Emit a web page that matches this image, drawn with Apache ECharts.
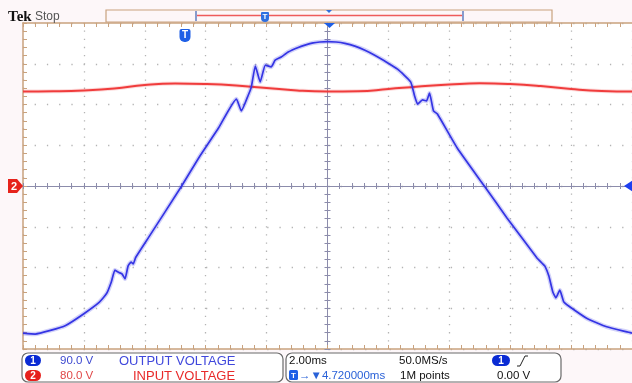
<!DOCTYPE html>
<html>
<head>
<meta charset="utf-8">
<script src="https://cdn.jsdelivr.net/npm/echarts@6/dist/echarts.min.js"></script>
<style>html,body{margin:0;padding:0;background:#fdf7f9;}#c{width:632px;height:383px;}</style>
</head>
<body>
<div id="c"></div>
<script>
// Channel 1 (OUTPUT VOLTAGE), time in ms, voltage in V
const blueTime  = [-10.0,-9.6,-9.1,-8.6,-8.0,-7.5,-7.25,-7.1,-6.98,-6.85,-6.75,-6.65,-6.55,-6.45,-6.38,-6.3,-5.87,-4.79,-4.23,-3.58,-2.99,-2.83,-2.60,-2.50,-2.37,-2.21,-2.04,-1.85,-1.72,-1.52,-1.29,-0.96,-0.74,-0.47,-0.25,0.0,0.28,0.57,0.90,1.23,1.55,1.88,2.30,2.73,2.86,2.96,3.12,3.25,3.35,3.48,3.61,4.26,5.15,5.90,6.88,7.04,7.14,7.27,7.40,7.50,7.63,7.76,7.92,8.51,9.17,9.89,10.0];
const blueVolts = [-325,-327,-319,-308,-282,-257,-237,-212,-186,-191,-194,-205,-177,-168,-172,-158,-113,0,62,128,192,166,201,219,265,230,267,263,278,285,296,306,311,316,318,319,318,315,309,300,289,276,258,230,199,181,190,188,205,166,159,84,0,-71,-159,-170,-177,-199,-234,-247,-230,-256,-265,-292,-311,-323,-325];
// Channel 2 (INPUT VOLTAGE)
const redTime  = [-10,-9,-8,-7,-6,-5,-4,-3,-2,-1,0,1,2,3,4,5,6,7,8,9,10];
const redVolts = [185.5,185.9,187.5,191.4,198.3,201.2,200.2,197.3,192.4,187.5,185.5,186,190.4,195.3,199.2,201.6,200.2,196.3,190.4,186.5,185.5];
// Scope settings
const timeMin = -10, timeMax = 10, timeDiv = 2;
const ch1Div = 90, ch2Div = 80, vDivs = 4;

const blueData = blueTime.map((t,i)=>[t, blueVolts[i]]);
const redData = redTime.map((t,i)=>[t, redVolts[i]]);

const FRAME = '#c9a27e', CENTER = '#8c8cab', DOT = '#b4b4b4';
const BLUE = '#3434e4', RED = '#f03c3c';

function xAx(extra){ return Object.assign({type:'value', min:timeMin, max:timeMax, interval:timeDiv,
  axisLabel:{show:false}, splitLine:{show:false}}, extra); }
function yAx(extra){ return Object.assign({type:'value', min:-ch1Div*vDivs, max:ch1Div*vDivs, interval:ch1Div,
  axisLabel:{show:false}, splitLine:{show:false}}, extra); }

const frameTick = {show:true, inside:true, length:4, lineStyle:{color:FRAME, width:1}};
const frameMinor = {show:true, splitNumber:5, length:4, lineStyle:{color:FRAME, width:1}};
const cTick = (inside)=>({show:true, inside:inside, length:3, lineStyle:{color:CENTER, width:1}});
const cMinor = {show:true, splitNumber:5, length:3, lineStyle:{color:CENTER, width:1}};

const chart = echarts.init(document.getElementById('c'), null, {renderer:'canvas'});
const txt = (x,y,s,color,font)=>({type:'text', z:20, style:{x:x,y:y,text:s,fill:color,font:font,align:'left',verticalAlign:'middle'}});
const ctxt = (x,y,s,color,font)=>({type:'text', z:20, style:{x:x,y:y,text:s,fill:color,font:font,align:'center',verticalAlign:'middle'}});
const F = '11.5px "Liberation Sans", Arial, sans-serif';
const F13 = '13px "Liberation Sans", Arial, sans-serif';
const FB = (n)=>'bold '+n+'px "Liberation Sans", sans-serif';

chart.setOption({
  animation:false,
  backgroundColor:'#fdf7f9',
  grid:{left:23, top:23, width:612, height:326, show:true, backgroundColor:'#ffffff', borderWidth:0},
  xAxis:[
    xAx({position:'bottom', axisLine:{onZero:false, lineStyle:{color:FRAME, width:1.5}}, axisTick:frameTick, minorTick:frameMinor,
         splitLine:{show:true, lineStyle:{color:DOT, width:1.3, type:[1.3,6.85], dashOffset:0.6}}}),
    xAx({position:'top', axisLine:{onZero:false, lineStyle:{color:FRAME, width:1.5}}, axisTick:frameTick, minorTick:frameMinor}),
    xAx({position:'bottom', axisLine:{onZero:true, onZeroAxisIndex:0, lineStyle:{color:CENTER, width:1}}, axisTick:cTick(true), minorTick:cMinor}),
    xAx({position:'bottom', axisLine:{onZero:true, onZeroAxisIndex:0, lineStyle:{color:CENTER, width:1}}, axisTick:cTick(false), minorTick:cMinor})
  ],
  yAxis:[
    yAx({position:'left', axisLine:{show:true, onZero:false, lineStyle:{color:FRAME, width:1.5}}, axisTick:frameTick, minorTick:frameMinor,
         splitLine:{show:true, lineStyle:{color:DOT, width:1.3, type:[1.3,10.94], dashOffset:0.6}}}),
    yAx({position:'left', axisLine:{show:true, onZero:true, onZeroAxisIndex:0, lineStyle:{color:CENTER, width:1}}, axisTick:cTick(true), minorTick:cMinor}),
    yAx({position:'left', axisLine:{show:true, onZero:true, onZeroAxisIndex:0, lineStyle:{color:CENTER, width:1}}, axisTick:cTick(false), minorTick:cMinor}),
    {type:'value', min:-ch2Div*vDivs, max:ch2Div*vDivs, show:false}
  ],
  series:[
    {type:'line', data:redData, xAxisIndex:0, yAxisIndex:3, symbol:'none', smooth:true, z:3,
     lineStyle:{color:'rgba(240,60,60,0.18)', width:4}},
    {type:'line', data:redData, xAxisIndex:0, yAxisIndex:3, symbol:'none', smooth:true, z:4,
     lineStyle:{color:RED, width:2}},
    {type:'line', data:blueData, xAxisIndex:0, yAxisIndex:0, symbol:'none', smooth:0.15, z:5,
     lineStyle:{color:'rgba(52,52,228,0.22)', width:4.5}},
    {type:'line', data:blueData, xAxisIndex:0, yAxisIndex:0, symbol:'none', smooth:0.15, z:6,
     lineStyle:{color:BLUE, width:1.7}}
  ],
  graphic:[
    txt(8,17,'Tek','#111','bold 15px "Liberation Serif", serif'),
    txt(35,17,'Stop','#555','12px "Liberation Sans", Arial, sans-serif'),
    {type:'rect', z:15, shape:{x:106,y:10,width:446,height:12}, style:{fill:'#fdf6f8', stroke:FRAME, lineWidth:1.2}},
    {type:'line', z:16, shape:{x1:197,y1:15.5,x2:462,y2:15.5}, style:{stroke:'#ee5a5a', lineWidth:1.6}},
    {type:'line', z:16, shape:{x1:196,y1:11,x2:196,y2:21}, style:{stroke:'#3a5fb0', lineWidth:1.2}},
    {type:'line', z:16, shape:{x1:463,y1:11,x2:463,y2:21}, style:{stroke:'#3a5fb0', lineWidth:1.2}},
    {type:'rect', z:17, shape:{x:261,y:12,width:8,height:10,r:[1,1,4,4]}, style:{fill:'#2f6fe0'}},
    ctxt(265,17,'T','#fff',FB(8)),
    {type:'polygon', z:17, shape:{points:[[326,10],[332,10],[329,13]]}, style:{fill:'#2f6fe0'}},
    {type:'polygon', z:17, shape:{points:[[324,23],[335,23],[329.5,28]]}, style:{fill:'#1e5fe6'}},
    {type:'rect', z:17, shape:{x:179.5,y:29,width:11,height:13,r:[2,2,5,5]}, style:{fill:'#1e5fe6'}},
    ctxt(185,35.5,'T','#fff',FB(10)),
    {type:'polygon', z:17, shape:{points:[[8,179],[17,179],[23,186],[17,193],[8,193]]}, style:{fill:'#e6231c'}},
    ctxt(14,186.5,'2','#fff',FB(11)),
    {type:'polygon', z:17, shape:{points:[[633,180],[624,186],[633,192]]}, style:{fill:'#1e3ff0'}},
    // bottom info boxes
    {type:'rect', z:12, shape:{x:22,y:353,width:261,height:29,r:6}, style:{fill:'#ffffff', stroke:'#6a6a6a', lineWidth:1.2}},
    {type:'rect', z:12, shape:{x:286,y:353,width:275,height:29,r:6}, style:{fill:'#ffffff', stroke:'#6a6a6a', lineWidth:1.2}},
    {type:'rect', z:13, shape:{x:25,y:355,width:16,height:11,r:5.5}, style:{fill:'#0a2bd4'}},
    ctxt(33,361,'1','#fff',FB(10)),
    {type:'rect', z:13, shape:{x:25,y:370,width:16,height:11,r:5.5}, style:{fill:'#e6201c'}},
    ctxt(33,376,'2','#fff',FB(10)),
    txt(60,361,'90.0 V','#3c48d0',F),
    txt(119,361,'OUTPUT VOLTAGE','#4048dc',F13),
    txt(60,376,'80.0 V','#e04848',F),
    txt(133,376,'INPUT VOLTAGE','#e82a2a',F13),
    txt(289,361,'2.00ms','#111',F),
    txt(399,361,'50.0MS/s','#111',F),
    {type:'rect', z:13, shape:{x:492,y:355,width:18,height:11,r:5.5}, style:{fill:'#0a2bd4'}},
    ctxt(501,361,'1','#fff',FB(10)),
    {type:'polyline', z:13, shape:{points:[[517,366],[520,366],[525,356],[528,356]]}, style:{stroke:'#222', fill:null, lineWidth:1}},
    {type:'rect', z:13, shape:{x:289,y:370,width:9,height:10,r:1.5}, style:{fill:'#1e5fe6'}},
    ctxt(293.5,375.5,'T','#fff',FB(8)),
    txt(299,376,'\u2192\u25BC4.720000ms','#2a62d8',F),
    txt(400,376,'1M points','#111',F),
    txt(497,376,'0.00 V','#111',F)
  ]
});
</script>
</body>
</html>
